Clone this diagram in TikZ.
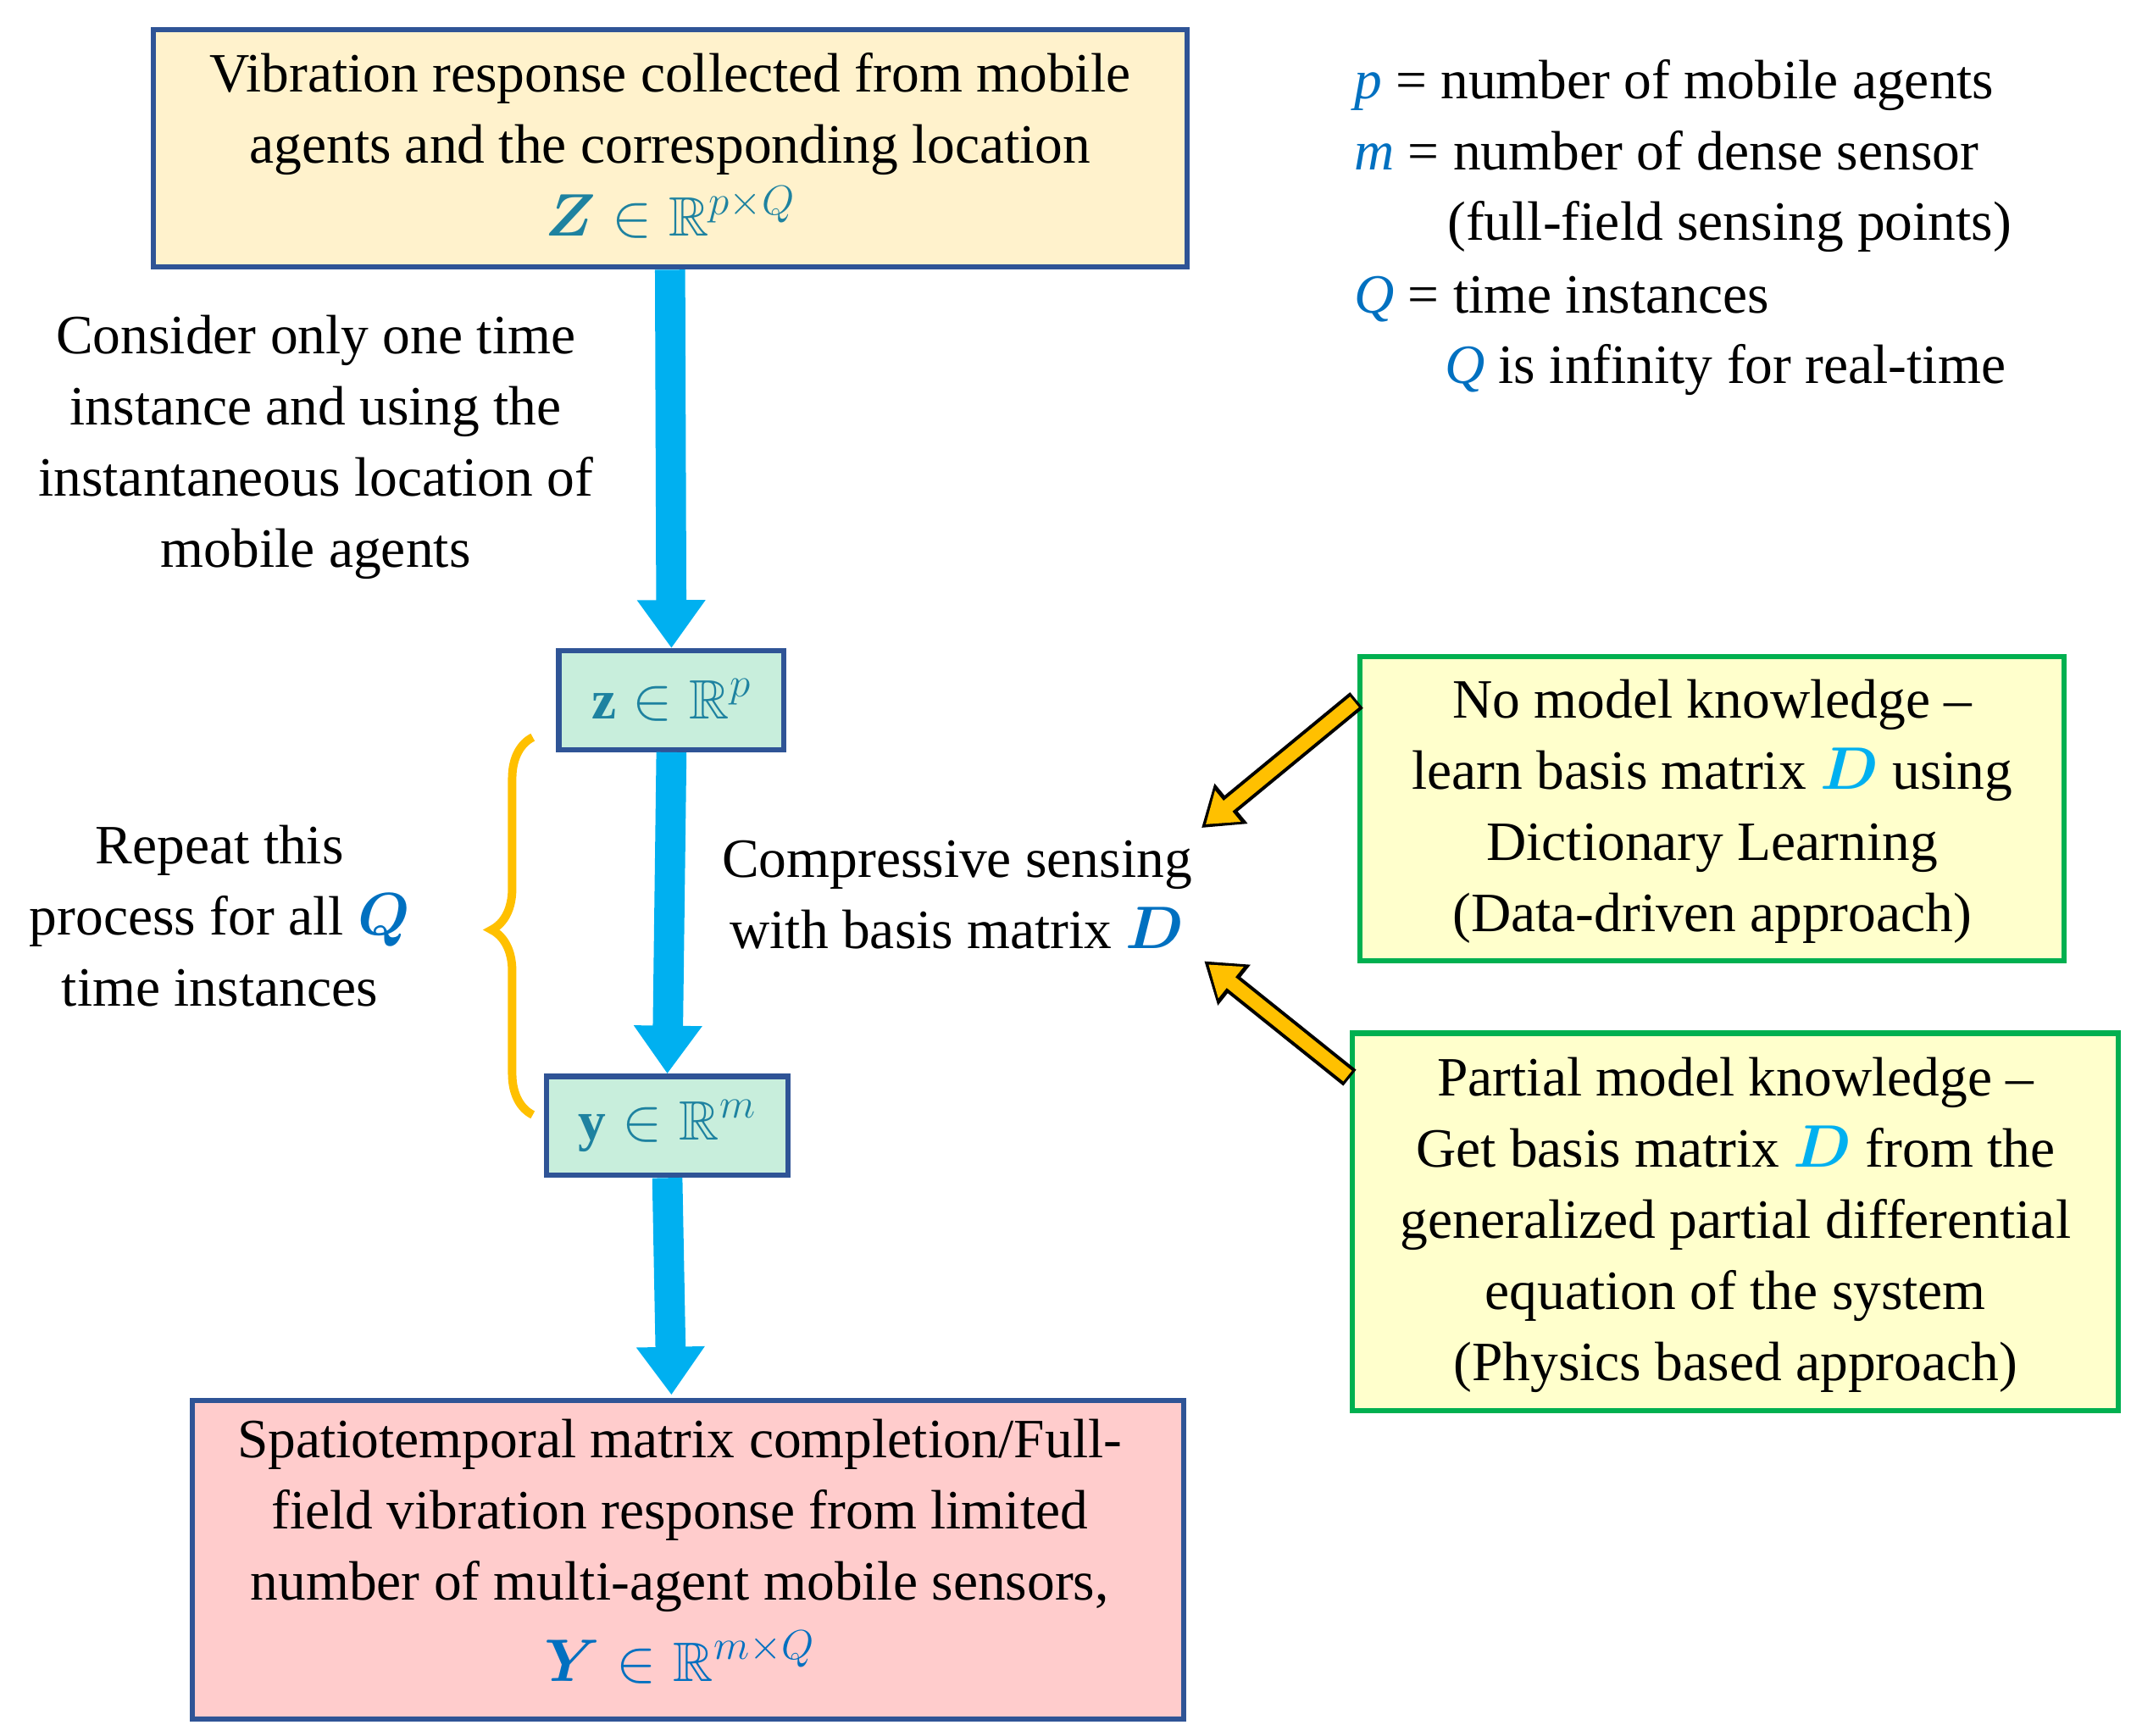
\documentclass[tikz,border=0pt]{standalone}
\usepackage{amsmath,amssymb,bm}
\usepackage{fontspec}
\setmainfont{Liberation Serif}
\usetikzlibrary{arrows.meta,decorations.pathreplacing}
\definecolor{bdr}{RGB}{47,84,150}
\definecolor{arrb}{RGB}{0,176,240}
\definecolor{org}{RGB}{255,192,0}
\definecolor{grn}{RGB}{0,176,80}
\definecolor{teal}{RGB}{30,130,160}
\definecolor{lblue}{RGB}{0,112,192}
\tikzset{
 every node/.style={font=\fontsize{23}{29.5}\selectfont, align=center},
 box/.style={draw=bdr, line width=2.2pt, inner sep=0pt},
 gbox/.style={draw=grn, line width=2.2pt, fill={rgb,255:red,255;green,255;blue,204}, inner sep=0pt},
 barrow/.style={draw=arrb, line width=0.44cm, -{Triangle[width=0.95cm,length=0.7cm]}},
}
\begin{document}
\begin{tikzpicture}[x=0.02cm,y=-0.02cm]
\useasboundingbox (0,0) rectangle (1552,1264);
% boxes
\node[box, fill={rgb,255:red,255;green,242;blue,204}, minimum width=15.06cm, minimum height=3.46cm] (top) at (488,108) {};
\node at (488,106) {Vibration response collected from mobile\\agents and the corresponding location\\[1pt]\color{teal}$\bm{Z}\in\mathbb{R}^{p\times Q}$};
\node[box, fill={rgb,255:red,200;green,238;blue,220}, minimum width=3.28cm, minimum height=1.44cm] (z) at (489,510) {\color{teal}$\mathbf{z}\in\mathbb{R}^{p}$};
\node[box, fill={rgb,255:red,200;green,238;blue,220}, minimum width=3.52cm, minimum height=1.44cm] (y) at (486,820) {\color{teal}$\mathbf{y}\in\mathbb{R}^{m}$};
\node[box, fill={rgb,255:red,255;green,204;blue,204}, minimum width=14.44cm, minimum height=4.64cm] (bot) at (501,1136) {};
\node at (495,1130) {Spatiotemporal matrix completion/Full-\\field vibration response from limited\\number of multi-agent mobile sensors,\\[4pt]\color{lblue}$\bm{Y}\in\mathbb{R}^{m\times Q}$};
\node[gbox, minimum width=10.26cm, minimum height=4.44cm] (g1) at (1247,589) {};
\node at (1247,591) {No model knowledge –\\learn basis matrix {\color{arrb}$\bm{D}$} using\\Dictionary Learning\\(Data-driven approach)};
\node[gbox, minimum width=11.16cm, minimum height=5.5cm] (g2) at (1264,890) {};
\node at (1264,892) {Partial model knowledge –\\Get basis matrix {\color{arrb}$\bm{D}$} from the\\generalized partial differential\\equation of the system\\(Physics based approach)};
% blue arrows
\draw[barrow] (top.south) -- (z.north);
\draw[barrow] (z.south) -- (y.north);
\draw[barrow] (y.south) -- (489,1016) coordinate (bt);
% labels
\node at (230,326) {Consider only one time\\instance and using the\\instantaneous location of\\mobile agents};
\node (cs) at (697,652) {Compressive sensing\\with basis matrix {\color{lblue}$\bm{D}$}};
\node at (160,667) {Repeat this\\process for all {\color{lblue}$\bm{Q}$}\\time instances};
% orange arrows
\coordinate (o1s) at (988,510); \coordinate (o1e) at (875,603);
\coordinate (o2s) at (983,785); \coordinate (o2e) at (877,700);
\foreach \s/\e in {o1s/o1e,o2s/o2e}{
 \draw[black, line width=0.3cm, -{Triangle[width=0.72cm,length=0.56cm]}] (\s) -- (\e);
 \draw[org, line width=0.2cm, shorten >=0.08cm, shorten <=0.04cm, -{Triangle[width=0.56cm,length=0.42cm]}] (\s) -- (\e);
}
% brace
\draw[org, line width=3.5pt, decorate, decoration={brace, amplitude=0.6cm, aspect=0.49}] (388,812) -- (388,537);
% legend
\begin{scope}[every node/.style={font=\fontsize{23}{29.5}\selectfont, anchor=base west}]
\node at (980,72) {{\color{lblue}\itshape p} = number of mobile agents};
\node at (980,124) {{\color{lblue}\itshape m} = number of dense sensor};
\node at (1048,175) {(full-field sensing points)};
\node at (980,228) {{\color{lblue}\itshape Q} = time instances};
\node at (1046,279) {{\color{lblue}\itshape Q} is infinity for real-time};
\end{scope}
\end{tikzpicture}
\end{document}
